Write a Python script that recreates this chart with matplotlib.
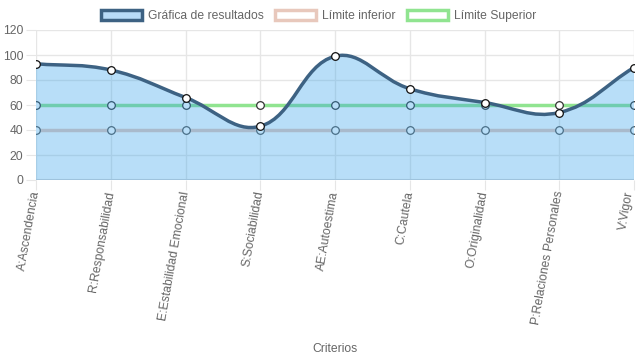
import numpy as np
import matplotlib.pyplot as plt
import matplotlib.transforms as mtransforms
from matplotlib.path import Path
from matplotlib.patches import PathPatch, Patch

plt.rcParams['font.family'] = ['Liberation Sans', 'DejaVu Sans']

categorias = ['A:Ascendencia', 'R:Responsabilidad', 'E:Estabilidad Emocional',
              'S:Sociabilidad', 'AE:Autoestima', 'C:Cautela', 'O:Originalidad',
              'P:Relaciones Personales', 'V:Vigor']
resultados = [93, 88, 66, 43, 99, 73, 62, 54, 90]
limite_inferior = [40] * 9
limite_superior = [60] * 9
y_ticks = [0, 20, 40, 60, 80, 100, 120]

fig = plt.figure(figsize=(6.37, 3.59), dpi=100)
ax = fig.add_axes([36 / 637, 1 - 180 / 359, 598 / 637, 150 / 359])
x = np.arange(len(categorias))
ax.set_xlim(0, len(categorias) - 1)
ax.set_ylim(0, 120)

grid_c = '#e6e6e6'
txt_c = '#666666'
fs = 8.7


def spline_path(xs, ys, tension=0.4):
    # curva tipo Chart.js calculada en pixeles
    pts = ax.transData.transform(np.column_stack([xs, ys]))
    n = len(pts)
    verts = [pts[0]]
    codes = [Path.MOVETO]
    cps = []
    for i in range(n):
        p0 = pts[max(i - 1, 0)]
        p1 = pts[i]
        p2 = pts[min(i + 1, n - 1)]
        d01 = np.hypot(*(p1 - p0))
        d12 = np.hypot(*(p2 - p1))
        s01 = d01 / (d01 + d12) if d01 + d12 else 0
        s12 = d12 / (d01 + d12) if d01 + d12 else 0
        cps.append((p1 - tension * s01 * (p2 - p0), p1 + tension * s12 * (p2 - p0)))
    for i in range(1, n):
        verts += [cps[i - 1][1], cps[i][0], pts[i]]
        codes += [Path.CURVE4] * 3
    verts = ax.transData.inverted().transform(np.array(verts))
    return verts, codes


# limites
ax.plot(x, limite_inferior, color='#e8c8bc', lw=2.5, zorder=2)
ax.plot(x, limite_inferior, 'o', ms=5.5, mfc='white', mec='#555555', mew=0.9, zorder=2.5)
ax.plot(x, limite_superior, color='#90e490', lw=2.5, zorder=2)
ax.plot(x, limite_superior, 'o', ms=5.5, mfc='white', mec='#333333', mew=0.9, zorder=2.5)

# resultados
verts, codes = spline_path(x, resultados)
fill_verts = np.vstack([verts, [[x[-1], 0], [x[0], 0], verts[0]]])
fill_codes = codes + [Path.LINETO, Path.LINETO, Path.CLOSEPOLY]
ax.add_patch(PathPatch(Path(fill_verts, fill_codes), facecolor=(54/255, 162/255, 235/255, 0.35),
                       edgecolor='none', zorder=3))
ax.add_patch(PathPatch(Path(verts, codes), facecolor='none', edgecolor='#3d6283',
                       lw=2.5, zorder=4))
ax.plot(x, resultados, 'o', ms=5.5, mfc='white', mec='#111111', mew=0.9, zorder=5)

for s in ax.spines.values():
    s.set_visible(False)
ax.axhline(0, color='#d6d6d6', lw=1.5, zorder=1)
ax.grid(True, color=grid_c, lw=1, zorder=0)
ax.set_axisbelow(True)
ax.set_yticks(y_ticks)
ax.set_xticks(x)
ax.set_xticklabels(categorias, rotation=80, rotation_mode='anchor', ha='right', va='center')
ax.tick_params(axis='both', length=7, color=grid_c, labelcolor=txt_c, labelsize=fs)
ax.tick_params(axis='x', pad=1)
ax.tick_params(axis='y', pad=2)
# el ultimo rotulo se corre un poco para que no se corte
last = ax.get_xticklabels()[-1]
last.set_transform(last.get_transform() + mtransforms.ScaledTranslation(-4 / 100, 0, fig.dpi_scale_trans))
ax.set_xlabel('Criterios', color=txt_c, fontsize=fs)
ax.xaxis.set_label_coords(0.5, -1.09)

handles = [Patch(facecolor='#b8dbf7', edgecolor='#3d6283', lw=2.5),
           Patch(facecolor='white', edgecolor='#e8c8bc', lw=2.5),
           Patch(facecolor='white', edgecolor='#90e490', lw=2.5)]
leg = fig.legend(handles, ['Gráfica de resultados', 'Límite inferior', 'Límite Superior'],
                 loc='upper center', bbox_to_anchor=(0.5, 1.0), ncol=3, frameon=False,
                 fontsize=fs, handlelength=3.4, handleheight=1.0, columnspacing=0.9,
                 handletextpad=0.5, borderaxespad=0.4)
for t in leg.get_texts():
    t.set_color(txt_c)

fig.savefig('out.png', dpi=100)
